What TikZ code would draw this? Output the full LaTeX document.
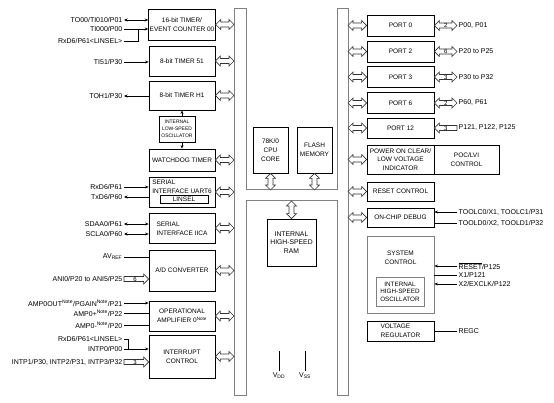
\documentclass[tikz,border=0pt]{standalone}
\usepackage{fontspec}
\setmainfont{Liberation Sans}
\usetikzlibrary{fit,calc,arrows.meta}

\begin{document}
\begin{tikzpicture}[x=1pt,y=-1pt]
\tikzset{blk/.style={draw=black,line width=0.8pt,inner sep=1pt,align=center,font=\fontsize{6.5}{8.7}\selectfont}}
\tikzset{lblock/.style={blk,minimum width=66pt}}
\tikzset{rblock/.style={blk,minimum width=67pt}}
\tikzset{graybox/.style={blk,draw=black!50}}
\tikzset{txt/.style={inner sep=0pt,align=left,font=\fontsize{6.5}{8.7}\selectfont}}
\tikzset{sig/.style={inner sep=1.5pt,font=\fontsize{7}{8}\selectfont}}
\tikzset{num/.style={inner sep=0pt,font=\fontsize{6}{6}\selectfont}}
\tikzset{sigline/.style={draw=black,line width=0.6pt}}
\tikzset{sigarrow/.style={sigline,-{Stealth[length=3.5pt,width=3pt]}}}
\tikzset{sigboth/.style={sigline,{Stealth[length=3.5pt,width=3pt]}-{Stealth[length=3.5pt,width=3pt]}}}
\tikzset{bus/.style={draw=black!50,line width=1pt,fill=white}}
\tikzset{fat/.style={draw=black!80,line width=0.6pt,fill=white,to path={
  -- ($(\tikztostart)!5pt!(\tikztotarget)!5pt!90:(\tikztotarget)$)
  -- ($(\tikztostart)!5pt!(\tikztotarget)!2.5pt!90:(\tikztotarget)$)
  -- ($(\tikztotarget)!5pt!(\tikztostart)!2.5pt!-90:(\tikztostart)$)
  -- ($(\tikztotarget)!5pt!(\tikztostart)!5pt!-90:(\tikztostart)$)
  -- (\tikztotarget)
  -- ($(\tikztotarget)!5pt!(\tikztostart)!5pt!90:(\tikztostart)$)
  -- ($(\tikztotarget)!5pt!(\tikztostart)!2.5pt!90:(\tikztostart)$)
  -- ($(\tikztostart)!5pt!(\tikztotarget)!2.5pt!-90:(\tikztotarget)$)
  -- ($(\tikztostart)!5pt!(\tikztotarget)!5pt!-90:(\tikztotarget)$)
  -- cycle}}}
\tikzset{fatin/.style={draw=black!80,line width=0.6pt,fill=white,to path={
  ($(\tikztostart)!2.5pt!90:(\tikztotarget)$)
  -- ($(\tikztotarget)!5pt!(\tikztostart)!2.5pt!-90:(\tikztostart)$)
  -- ($(\tikztotarget)!5pt!(\tikztostart)!5pt!-90:(\tikztostart)$)
  -- (\tikztotarget)
  -- ($(\tikztotarget)!5pt!(\tikztostart)!5pt!90:(\tikztostart)$)
  -- ($(\tikztotarget)!5pt!(\tikztostart)!2.5pt!90:(\tikztostart)$)
  -- ($(\tikztostart)!2.5pt!-90:(\tikztotarget)$)
  -- cycle}}}

\node[use as bounding box,inner sep=0pt,fit={(0,0) (554,403)}]{};

\path[bus] (234,9) -- (246,9) -- (246,190) -- (337,190) -- (337,9) -- (348,9) -- (348,395) -- (337,395)
  -- (337,201) -- (246,201) -- (246,395) -- (234,395) -- cycle;
\coordinate (busL) at (234,0);
\coordinate (busR) at (348,0);
\coordinate (xtop) at (0,190);
\coordinate (xbot) at (0,201);

\node[lblock,minimum height=31pt] (tmr00) at (182,24.5) {16-bit TIMER/\\EVENT COUNTER 00};
\node[lblock,minimum height=30pt] (tmr51) at (182,61) {8-bit TIMER 51};
\node[lblock,minimum height=29pt] (tmrH1) at (182,95.5) {8-bit TIMER H1};
\node[blk,minimum width=36pt,minimum height=26pt,font=\fontsize{5}{7}\selectfont] (losc) at (177,129) {INTERNAL\\LOW-SPEED\\OSCILLATOR};
\node[lblock,minimum height=22pt] (wdt) at (182,160) {WATCHDOG TIMER};
\node[lblock,minimum height=30pt] (uart) at (182,192) {};
\node[txt] (uarttxt) at (182,187) {SERIAL\\INTERFACE UART6};
\node[blk,minimum width=48pt,minimum height=8pt,inner sep=0pt] (linsel) at (184,199) {LINSEL};
\node[lblock,minimum height=30pt] (iica) at (182,228) {};
\node[txt] (iicatxt) at (182,229) {SERIAL\\INTERFACE IICA};
\node[lblock,minimum height=41pt] (adc) at (182,270.5) {A/D CONVERTER};
\node[lblock,minimum height=30pt] (opamp) at (182,316) {OPERATIONAL\\AMPLIFIER 0\textsuperscript{Note}};
\node[lblock,minimum height=43pt] (intc) at (182,356.5) {INTERRUPT\\CONTROL};

\draw[sigarrow] (losc.north -| tmrH1.south) -- (tmrH1.south);
\draw[sigarrow] (losc.south -| wdt.north) -- (wdt.north);

\foreach \b in {tmr00,tmr51,tmrH1,wdt,uart,iica,adc,opamp,intc} {
  \coordinate (bus\b) at (\b.east -| busL);
  \draw[fat] (\b.east) to (bus\b);
}

\node[sig,anchor=east] (to00) at (124,20) {TO00/TI010/P01};
\node[sig,anchor=east] (ti000) at (124,29) {TI000/P00};
\node[sig,anchor=east] (rx1) at (124,41) {RxD6/P61<LINSEL>};
\coordinate (j1) at (138,29);
\draw[sigboth] (to00.east) -- (to00.east -| tmr00.west);
\draw[sigarrow] (ti000.east) -- (ti000.east -| tmr00.west);
\draw[sigline] (rx1.east) -| (j1);
\node[sig,anchor=east] (ti51) at (124,62) {TI51/P30};
\draw[sigarrow] (ti51.east) -- (ti51.east -| tmr51.west);
\node[sig,anchor=east] (toh1) at (124,96) {TOH1/P30};
\draw[sigarrow] (toh1.east -| tmrH1.west) -- (toh1.east);
\node[sig,anchor=east] (rxd) at (124,187) {RxD6/P61};
\node[sig,anchor=east] (txd) at (124,197) {TxD6/P60};
\draw[sigarrow] (rxd.east) -- (rxd.east -| uart.west);
\draw[sigarrow] (txd.east -| uart.west) -- (txd.east);
\node[sig,anchor=east] (sdaa) at (124,224) {SDAA0/P61};
\node[sig,anchor=east] (scla) at (124,234) {SCLA0/P60};
\draw[sigboth] (sdaa.east) -- (sdaa.east -| iica.west);
\draw[sigboth] (scla.east) -- (scla.east -| iica.west);
\node[sig,anchor=east] (avref) at (124,257) {AV\textsubscript{REF}};
\draw[sigline] (avref.east) -- (avref.east -| adc.west);
\node[sig,anchor=east] (ani) at (124,279) {ANI0/P20 to ANI5/P25};
\coordinate (anib) at (ani.east -| adc.west);
\draw[fatin] (ani.east) to (anib);
\node[num] (anin) at ($(ani.east)!0.45!(anib)$) {6};
\node[sig,anchor=east] (ampout) at (124,303) {AMP0OUT\textsuperscript{Note}/PGAIN\textsuperscript{Note}/P21};
\node[sig,anchor=east] (ampp) at (124,313) {AMP0+\textsuperscript{Note}/P22};
\node[sig,anchor=east] (ampm) at (124,325) {AMP0-\textsuperscript{Note}/P20};
\draw[sigarrow] (ampout.east) -- (ampout.east -| opamp.west);
\draw[sigline] (ampp.east) -- (ampp.east -| opamp.west);
\draw[sigline] (ampm.east) -- (ampm.east -| opamp.west);
\node[sig,anchor=east] (rx3) at (124,339) {RxD6/P61<LINSEL>};
\node[sig,anchor=east] (intp0) at (124,349) {INTP0/P00};
\node[sig,anchor=east] (intp) at (124,362) {INTP1/P30, INTP2/P31, INTP3/P32};
\coordinate (j2) at (128,349);
\draw[sigline] (rx3.east) -| (j2);
\draw[sigarrow] (intp0.east) -- (intp0.east -| intc.west);
\coordinate (intpb) at (intp.east -| intc.west);
\draw[fatin] (intp.east) to (intpb);
\node[num] (intpn) at ($(intp.east)!0.45!(intpb)$) {3};

\node[blk,minimum width=35pt,minimum height=46pt] (cpu) at (270.5,150) {78K/0\\CPU\\CORE};
\node[blk,minimum width=35pt,minimum height=46pt] (flash) at (314.5,150) {FLASH\\MEMORY};
\node[blk,minimum width=49pt,minimum height=47pt,font=\fontsize{6.8}{8.5}\selectfont] (ram) at (291.5,242.5) {INTERNAL\\HIGH-SPEED\\RAM};
\coordinate (buscpu) at (cpu.south |- xtop);
\coordinate (busflash) at (flash.south |- xtop);
\coordinate (busram) at (ram.north |- xbot);
\draw[fat] (cpu.south) to (buscpu);
\draw[fat] (flash.south) to (busflash);
\draw[fat] (busram) to (ram.north);
\node[sig] (vdd) at (279,376) {V\textsubscript{DD}};
\node[sig] (vss) at (305,376) {V\textsubscript{SS}};
\coordinate (vddtop) at (279,351);
\coordinate (vsstop) at (305,351);
\draw[sigline] (vddtop) -- (vdd.north);
\draw[sigline] (vsstop) -- (vss.north);

\foreach \n/\y/\k/\p in {0/25.5/2/{P00, P01},2/51.5/6/{P20 to P25},3/77/3/{P30 to P32},6/103/2/{P60, P61}} {
  \node[rblock,minimum height=21pt] (port\n) at (400.5,\y) {PORT \n};
  \coordinate (portout\n) at (457,\y);
  \draw[fat] (port\n.east) to (portout\n);
  \node[num] (portnum\n) at ($(port\n.east)!0.5!(portout\n)$) {\k};
  \node[sig,anchor=west] (portlbl\n) at (portout\n) {\p};
}
\node[rblock,minimum height=20pt] (port12) at (400.5,128) {PORT 12};
\coordinate (portout12) at (457,128);
\draw[fatin] (portout12) to (port12.east);
\node[num] (portnum12) at ($(port12.east)!0.5!(portout12)$) {3};
\node[sig,anchor=west] (portlbl12) at (portout12) {P121, P122, P125};

\node[rblock,minimum height=29pt] (pocl) at (400.5,159.5) {POWER ON CLEAR/\\LOW VOLTAGE\\INDICATOR};
\node[blk,minimum width=65pt,minimum height=29pt] (pocr) at (466.5,159.5) {POC/LVI\\CONTROL};
\node[rblock,minimum height=19pt] (rst) at (400.5,191.5) {RESET CONTROL};
\node[rblock,minimum height=19pt] (ocd) at (400.5,217.5) {ON-CHIP DEBUG};

\foreach \b in {port0,port2,port3,port6,port12,pocl,rst,ocd} {
  \coordinate (bus\b) at (\b.west -| busR);
  \draw[fat] (bus\b) to (\b.west);
}

\node[sig,anchor=west] (toolc) at (457,212) {TOOLC0/X1, TOOLC1/P31};
\node[sig,anchor=west] (toold) at (457,223) {TOOLD0/X2, TOOLD1/P32};
\draw[sigarrow] (toolc.west) -- (toolc.west -| ocd.east);
\draw[sigline] (toold.west) -- (toold.west -| ocd.east);

\node[graybox,rblock,draw=black!50,minimum height=77pt] (sysc) at (400.5,274.5) {};
\node[txt,align=center] (sysctxt) at (400.5,258) {SYSTEM\\CONTROL};
\node[graybox,minimum width=48pt,minimum height=29pt,inner sep=0pt,font=\fontsize{6.3}{7.4}\selectfont] (hosc) at (400,291.5) {INTERNAL\\HIGH-SPEED\\OSCILLATOR};
\node[sig,anchor=west] (rstin) at (457,266) {$\overline{\mbox{RESET}}$/P125};
\node[sig,anchor=west] (x1) at (457,275) {X1/P121};
\node[sig,anchor=west] (x2) at (457,284) {X2/EXCLK/P122};
\draw[sigarrow] (rstin.west) -- (rstin.west -| sysc.east);
\draw[sigline] (x1.west) -- (x1.west -| sysc.east);
\draw[sigarrow] (x2.west) -- (x2.west -| sysc.east);

\node[rblock,minimum height=20pt,align=left] (vreg) at (400.5,331) {VOLTAGE\\REGULATOR};
\node[sig,anchor=west] (regc) at (457,331) {REGC};
\draw[sigline] (vreg.east) -- (regc.west);
\end{tikzpicture}
\end{document}
